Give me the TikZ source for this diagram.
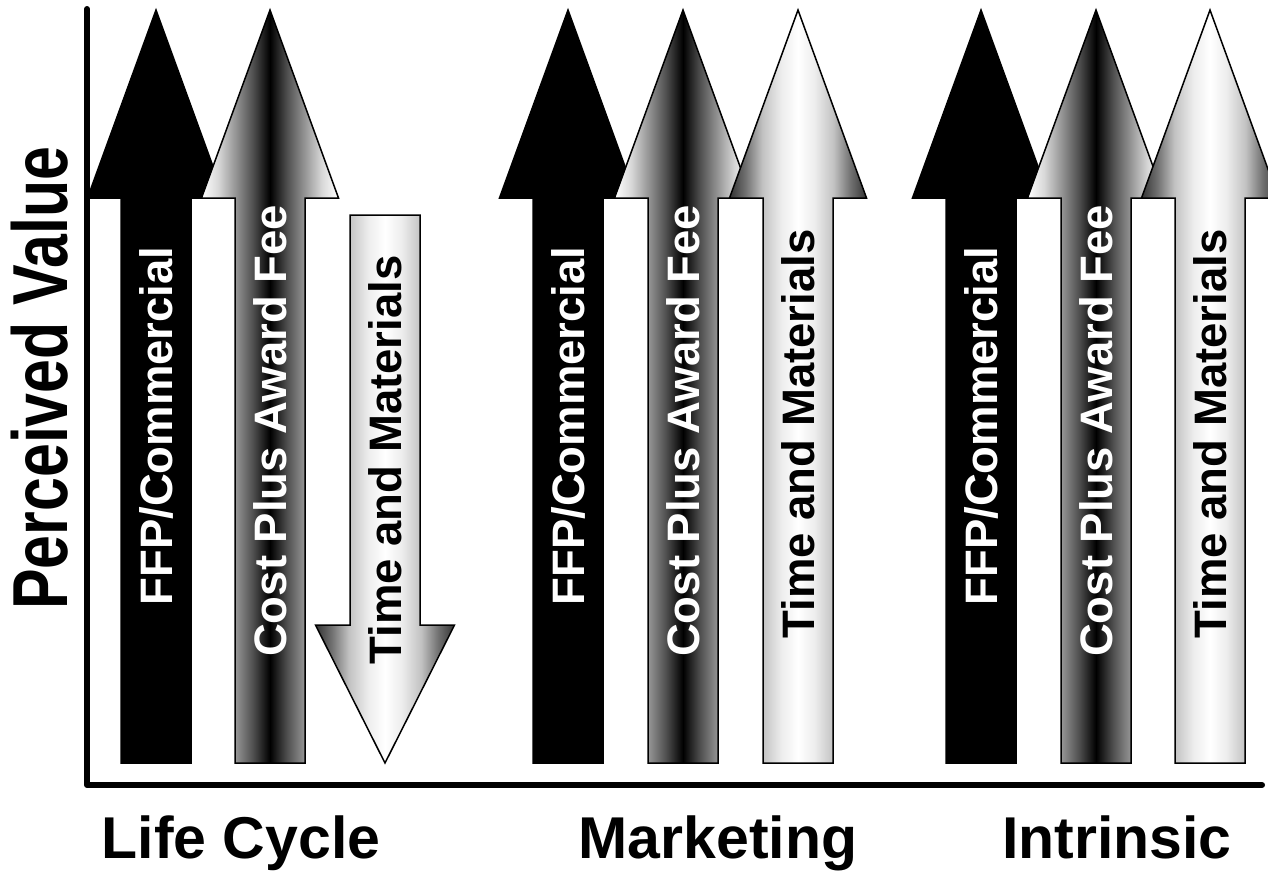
\documentclass[tikz,border=0pt]{standalone}
\usepackage{tikz}
\usepackage{graphicx}
\usepackage{fontspec}
\setmainfont{Liberation Sans}

% grey levels used in the arrow shadings
\definecolor{cpA}{gray}{0.85}
\definecolor{cpB}{gray}{0.60}
\definecolor{cpC}{gray}{0.30}
\definecolor{cpD}{gray}{0.10}
\definecolor{tmA}{gray}{0.20}
\definecolor{tmB}{gray}{0.45}
\definecolor{tmC}{gray}{0.76}
\definecolor{tmD}{gray}{0.93}

% dark core, light rim
\pgfdeclarehorizontalshading{costplus}{100bp}{%
  color(0bp)=(white); color(25bp)=(white); color(31bp)=(cpA);
  color(37bp)=(cpB); color(44bp)=(cpC); color(48bp)=(cpD);
  color(50bp)=(black); color(52bp)=(cpD); color(56bp)=(cpC);
  color(63bp)=(cpB); color(69bp)=(cpA); color(75bp)=(white);
  color(100bp)=(white)}
% light core, dark rim
\pgfdeclarehorizontalshading{timemat}{100bp}{%
  color(0bp)=(tmA); color(25bp)=(tmA); color(31bp)=(tmB);
  color(37bp)=(tmC); color(44bp)=(tmD); color(50bp)=(white);
  color(56bp)=(tmD); color(63bp)=(tmC); color(69bp)=(tmB);
  color(75bp)=(tmA); color(100bp)=(tmA)}

\tikzset{
  ffparrow/.style={fill=black, draw=black, line width=1.5pt},
  cparrow/.style={shading=costplus, draw=black, line width=1.5pt},
  tmarrow/.style={shading=timemat, draw=black, line width=1.5pt},
  barlabel/.style={rotate=90, inner sep=0pt,
    font=\fontsize{45.5}{45.5}\selectfont\bfseries},
  catlabel/.style={anchor=base, inner sep=0pt,
    font=\fontsize{59}{59}\selectfont\bfseries},
  axisline/.style={line width=6pt, line cap=round, line join=round}
}

% upward block arrow with its tip at (#1,10)
\newcommand\blockup[2]{%
  \path[#2] (#1,10) -- ++(68.5,188) -- ++(-33.5,0) -- ++(0,565)
    -- ++(-70,0) -- ++(0,-565) -- ++(-33.5,0) -- cycle;}

\begin{document}
\begin{tikzpicture}[x=1pt, y=-1pt]
  \useasboundingbox (0,0) rectangle (1268,871);
  \clip (0,0) rectangle (1268,871);
  \fill[white] (0,0) rectangle (1268,871);

  % axes
  \coordinate (ytop) at (87,9);
  \coordinate (origin) at (87,785);
  \coordinate (xend) at (1262,785);
  \draw[axisline] (ytop) -- (origin) -- (xend);

  % Life Cycle
  \blockup{156}{ffparrow}
  \blockup{270}{cparrow}
  \path[tmarrow] (350,215) -- (420,215) -- (420,625) -- (454.5,625)
    -- (385,763) -- (315.5,625) -- (350,625) -- cycle;

  % Marketing
  \blockup{568}{ffparrow}
  \blockup{683}{cparrow}
  \blockup{798}{tmarrow}

  % Intrinsic
  \blockup{981}{ffparrow}
  \blockup{1096}{cparrow}
  \blockup{1210}{tmarrow}

  % bar labels
  \node[barlabel, text=white] (lcffp) at (156,426) {FFP/Commercial};
  \node[barlabel, text=white] (lccp)  at (270,431) {Cost Plus Award Fee};
  \node[barlabel, text=black] (lctm)  at (385,460) {Time and Materials};

  \node[barlabel, text=white] (mkffp) at (568,426) {FFP/Commercial};
  \node[barlabel, text=white] (mkcp)  at (683,431) {Cost Plus Award Fee};
  \node[barlabel, text=black] (mktm)  at (798,434) {Time and Materials};

  \node[barlabel, text=white] (inffp) at (981,426) {FFP/Commercial};
  \node[barlabel, text=white] (incp)  at (1096,431) {Cost Plus Award Fee};
  \node[barlabel, text=black] (intm)  at (1210,434) {Time and Materials};

  % axis title
  \node[rotate=90, inner sep=0pt] (yaxis) at (40,378)
    {\scalebox{0.78}[1]{\fontsize{78}{78}\selectfont\bfseries Perceived Value}};

  % category labels
  \node[catlabel] (lifecycle) at (241,858) {Life Cycle};
  \node[catlabel] (marketing) at (718,858) {Marketing};
  \node[catlabel] (intrinsic) at (1117,858) {Intrinsic};
\end{tikzpicture}
\end{document}
